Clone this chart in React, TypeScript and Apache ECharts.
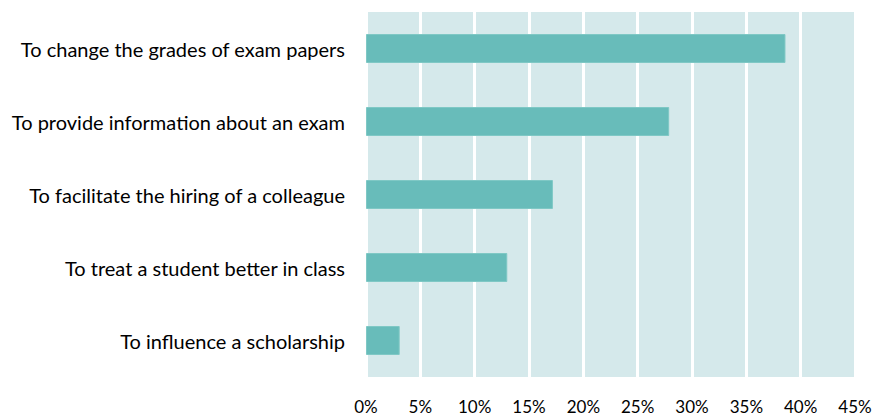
import React, { useEffect, useRef } from "react";
import * as echarts from "echarts";

const categories = [
  "To change the grades of exam papers",
  "To provide information about an exam",
  "To facilitate the hiring of a colleague",
  "To treat a student better in class",
  "To influence a scholarship",
];
const values = [38.6, 27.9, 17.2, 13.0, 3.1];
const xTicks = [0, 5, 10, 15, 20, 25, 30, 35, 40, 45];

export default function App() {
  const ref = useRef<HTMLDivElement>(null);
  useEffect(() => {
    if (!ref.current) return;
    const chart = echarts.init(ref.current, undefined, { renderer: "svg" });
    chart.setOption({
      animation: false,
      grid: {
        left: 366,
        top: 12,
        width: 489,
        height: 365,
        show: true,
        backgroundColor: "#d5e9eb",
        borderWidth: 0,
      },
      xAxis: {
        type: "value",
        min: xTicks[0],
        max: xTicks[xTicks.length - 1],
        interval: 5,
        axisLine: { show: false },
        axisTick: { show: false },
        splitLine: { show: true, lineStyle: { color: "#ffffff", width: 3 } },
        axisLabel: {
          margin: 21,
          fontFamily: "Lato",
          fontSize: 17,
          lineHeight: 17,
          color: "#000000",
          formatter: (v: number) => `${v}%`,
        },
      },
      yAxis: {
        type: "category",
        inverse: true,
        data: categories,
        axisLine: { show: false },
        axisTick: { show: false },
        splitLine: { show: false },
        axisLabel: {
          margin: 21,
          fontFamily: "Lato",
          fontSize: 20,
          color: "#000000",
        },
      },
      series: [
        {
          type: "bar",
          data: values,
          barWidth: 29,
          itemStyle: {
            color: "#68bcba",
            borderColor: "#7fc8c5",
            borderWidth: 1,
          },
        },
      ],
    });
    return () => chart.dispose();
  }, []);
  return <div ref={ref} style={{ width: 877, height: 416, position: "absolute", left: 0, top: 0 }} />;
}
